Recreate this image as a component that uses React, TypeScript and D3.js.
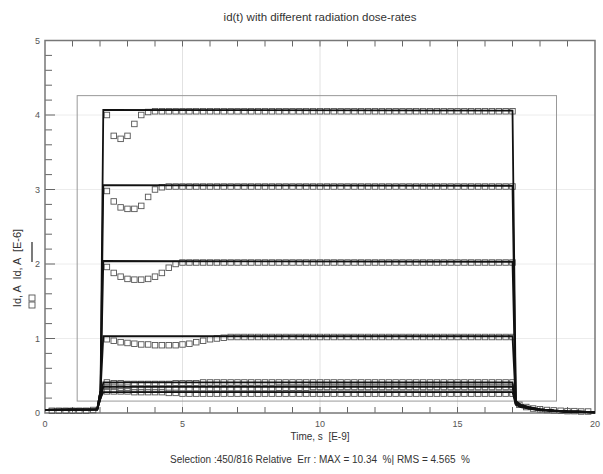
import { useEffect, useRef } from 'react'
import * as d3 from 'd3'

const W = 603, H = 474
const PX0 = 45, PX1 = 595, PY0 = 413, PY1 = 40.5

// measured sample times (ns)
const measT = [
  2.25, 2.5, 2.75, 3, 3.25, 3.5, 3.75, 4, 4.25, 4.5, 4.75, 5, 5.25, 5.5, 5.75,
  6, 6.25, 6.5, 6.75, 7, 7.25, 7.5, 7.75, 8, 8.25, 8.5, 8.75, 9, 9.25, 9.5, 9.75,
  10, 10.25, 10.5, 10.75, 11, 11.25, 11.5, 11.75, 12, 12.25, 12.5, 12.75, 13,
  13.25, 13.5, 13.75, 14, 14.25, 14.5, 14.75, 15, 15.25, 15.5, 15.75, 16, 16.25,
  16.5, 16.75, 17,
]

// measured Id (E-6 A), one array per dose-rate
const meas4 = [
  4.0, 3.72, 3.68, 3.72, 3.88, 4.0, 4.04, 4.05, 4.05, 4.05, 4.05, 4.05, 4.05, 4.05, 4.05,
  4.05, 4.05, 4.05, 4.05, 4.05, 4.05, 4.05, 4.05, 4.05, 4.05, 4.05, 4.05, 4.05, 4.05, 4.05,
  4.05, 4.05, 4.05, 4.05, 4.05, 4.05, 4.05, 4.05, 4.05, 4.05, 4.05, 4.05, 4.05, 4.05, 4.05,
  4.05, 4.05, 4.05, 4.05, 4.05, 4.05, 4.05, 4.05, 4.05, 4.05, 4.05, 4.05, 4.05, 4.05, 4.05,
]
const meas3 = [
  2.98, 2.84, 2.76, 2.74, 2.74, 2.78, 2.9, 3.0, 3.03, 3.04, 3.04, 3.04, 3.04, 3.04, 3.04,
  3.04, 3.04, 3.04, 3.04, 3.04, 3.04, 3.04, 3.04, 3.04, 3.04, 3.04, 3.04, 3.04, 3.04, 3.04,
  3.04, 3.04, 3.04, 3.04, 3.04, 3.04, 3.04, 3.04, 3.04, 3.04, 3.04, 3.04, 3.04, 3.04, 3.04,
  3.04, 3.04, 3.04, 3.04, 3.04, 3.04, 3.04, 3.04, 3.04, 3.04, 3.04, 3.04, 3.04, 3.04, 3.04,
]
const meas2 = [
  1.96, 1.88, 1.83, 1.8, 1.79, 1.79, 1.8, 1.83, 1.88, 1.95, 2.0, 2.02, 2.02, 2.02, 2.02,
  2.02, 2.02, 2.02, 2.02, 2.02, 2.02, 2.02, 2.02, 2.02, 2.02, 2.02, 2.02, 2.02, 2.02, 2.02,
  2.02, 2.02, 2.02, 2.02, 2.02, 2.02, 2.02, 2.02, 2.02, 2.02, 2.02, 2.02, 2.02, 2.02, 2.02,
  2.02, 2.02, 2.02, 2.02, 2.02, 2.02, 2.02, 2.02, 2.02, 2.02, 2.02, 2.02, 2.02, 2.02, 2.02,
]
const meas1 = [
  0.99, 0.97, 0.95, 0.94, 0.93, 0.92, 0.92, 0.91, 0.91, 0.91, 0.91, 0.92, 0.93, 0.95, 0.97,
  0.99, 1.0, 1.01, 1.02, 1.02, 1.02, 1.02, 1.02, 1.02, 1.02, 1.02, 1.02, 1.02, 1.02, 1.02,
  1.02, 1.02, 1.02, 1.02, 1.02, 1.02, 1.02, 1.02, 1.02, 1.02, 1.02, 1.02, 1.02, 1.02, 1.02,
  1.02, 1.02, 1.02, 1.02, 1.02, 1.02, 1.02, 1.02, 1.02, 1.02, 1.02, 1.02, 1.02, 1.02, 1.02,
]
const measA = [
  0.41, 0.40, 0.40, 0.39, 0.39, 0.39, 0.39, 0.39, 0.39, 0.39, 0.40, 0.40, 0.40, 0.40, 0.41,
  0.41, 0.41, 0.41, 0.41, 0.41, 0.41, 0.41, 0.41, 0.41, 0.41, 0.41, 0.41, 0.41, 0.41, 0.41,
  0.41, 0.41, 0.41, 0.41, 0.41, 0.41, 0.41, 0.41, 0.41, 0.41, 0.41, 0.41, 0.41, 0.41, 0.41,
  0.41, 0.41, 0.41, 0.41, 0.41, 0.41, 0.41, 0.41, 0.41, 0.41, 0.41, 0.41, 0.41, 0.41, 0.41,
]
const measB = [
  0.35, 0.35, 0.34, 0.34, 0.33, 0.33, 0.33, 0.33, 0.33, 0.33, 0.33, 0.33, 0.33, 0.33, 0.33,
  0.33, 0.33, 0.33, 0.33, 0.33, 0.33, 0.33, 0.33, 0.33, 0.33, 0.34, 0.34, 0.34, 0.34, 0.34,
  0.35, 0.35, 0.35, 0.35, 0.35, 0.35, 0.35, 0.35, 0.35, 0.35, 0.35, 0.35, 0.35, 0.35, 0.35,
  0.35, 0.35, 0.35, 0.35, 0.35, 0.35, 0.35, 0.35, 0.35, 0.35, 0.35, 0.35, 0.35, 0.35, 0.35,
]
const measC = [
  0.29, 0.29, 0.29, 0.29, 0.28, 0.28, 0.28, 0.28, 0.28, 0.27, 0.27, 0.26, 0.26, 0.26, 0.26,
  0.26, 0.26, 0.26, 0.26, 0.26, 0.26, 0.26, 0.26, 0.26, 0.26, 0.26, 0.26, 0.26, 0.26, 0.26,
  0.26, 0.26, 0.26, 0.26, 0.26, 0.26, 0.26, 0.26, 0.26, 0.26, 0.26, 0.26, 0.26, 0.26, 0.26,
  0.26, 0.26, 0.26, 0.26, 0.26, 0.26, 0.26, 0.26, 0.26, 0.26, 0.26, 0.26, 0.26, 0.26, 0.26,
]
const measSeries = [meas4, meas3, meas2, meas1, measA, measB, measC]

// off-state measured points (before pulse and tail after)
const offT = [0.25, 0.5, 0.75, 1.0, 1.25, 1.5, 1.75, 17.25, 17.5, 17.75, 18, 18.25, 18.5, 18.75, 19, 19.25, 19.5, 19.75]
const offV = [0.03, 0.03, 0.03, 0.03, 0.03, 0.03, 0.04, 0.11, 0.08, 0.06, 0.05, 0.04, 0.035, 0.03, 0.025, 0.025, 0.02, 0.02]

// simulated Id (E-6 A)
const simT = [0, 1.9, 2.02, 2.12, 17.0, 17.12, 17.3, 17.6, 18, 18.5, 19, 20]
const sim4 = [0.04, 0.05, 0.3, 4.07, 4.06, 0.16, 0.11, 0.08, 0.05, 0.03, 0.02, 0.01]
const sim3 = [0.04, 0.05, 0.3, 3.06, 3.05, 0.15, 0.11, 0.08, 0.05, 0.03, 0.02, 0.01]
const sim2 = [0.04, 0.05, 0.3, 2.04, 2.03, 0.14, 0.1, 0.07, 0.05, 0.03, 0.02, 0.01]
const sim1 = [0.04, 0.05, 0.3, 1.03, 1.03, 0.13, 0.1, 0.07, 0.05, 0.03, 0.02, 0.01]
const simA = [0.04, 0.05, 0.2, 0.41, 0.41, 0.12, 0.09, 0.07, 0.04, 0.03, 0.02, 0.01]
const simB = [0.04, 0.05, 0.2, 0.35, 0.35, 0.12, 0.09, 0.06, 0.04, 0.03, 0.02, 0.01]
const simC = [0.04, 0.05, 0.2, 0.28, 0.28, 0.11, 0.08, 0.06, 0.04, 0.03, 0.02, 0.01]
const simSeries = [sim4, sim3, sim2, sim1, simA, simB, simC]

// selection rectangle
const selX = [1.17, 18.6]
const selY = [0.16, 4.26]

const xMajor = [0, 5, 10, 15, 20]
const yMajor = [0, 1, 2, 3, 4, 5]

const FONT = 'Liberation Sans, Arial, sans-serif'

export default function App() {
  const ref = useRef<SVGSVGElement>(null)

  useEffect(() => {
    const svg = d3.select(ref.current!)
    svg.selectAll('*').remove()

    const x = d3.scaleLinear().domain([0, 20]).range([PX0, PX1])
    const y = d3.scaleLinear().domain([0, 5]).range([PY0, PY1])

    svg.append('rect').attr('width', W).attr('height', H).attr('fill', '#fff')

    // gridlines
    xMajor.slice(1, -1).forEach(v => {
      svg.append('line').attr('x1', x(v)).attr('x2', x(v)).attr('y1', PY0).attr('y2', PY1)
        .attr('stroke', '#e2e2e2').attr('stroke-width', 1)
    })
    yMajor.slice(1, -1).forEach(v => {
      svg.append('line').attr('x1', PX0).attr('x2', PX1).attr('y1', y(v)).attr('y2', y(v))
        .attr('stroke', '#ececec').attr('stroke-width', 1)
    })

    // inward ticks
    const xMinor = d3.range(1, 20)
    const yMinor = d3.range(0.2, 5, 0.2)
    const tk = svg.append('g').attr('stroke', '#666').attr('stroke-width', 1)
    xMinor.forEach(v => {
      tk.append('line').attr('x1', x(v)).attr('x2', x(v)).attr('y1', PY1).attr('y2', PY1 + 6)
      tk.append('line').attr('x1', x(v)).attr('x2', x(v)).attr('y1', PY0).attr('y2', PY0 - 6)
    })
    yMinor.forEach(v => {
      tk.append('line').attr('x1', PX0).attr('x2', PX0 + (Math.abs(v - Math.round(v)) < 0.01 ? 10 : 7))
        .attr('y1', y(v)).attr('y2', y(v))
    })

    // frame
    svg.append('rect').attr('x', PX0).attr('y', PY1).attr('width', PX1 - PX0).attr('height', PY0 - PY1)
      .attr('fill', 'none').attr('stroke', '#777').attr('stroke-width', 1.5)

    // selection rectangle
    svg.append('rect').attr('x', x(selX[0])).attr('y', y(selY[1]))
      .attr('width', x(selX[1]) - x(selX[0])).attr('height', y(selY[0]) - y(selY[1]))
      .attr('fill', 'none').attr('stroke', '#999').attr('stroke-width', 1)

    // tick labels
    const lab = svg.append('g').attr('font-family', FONT).attr('font-size', 9).attr('fill', '#555')
    xMajor.forEach(v => {
      lab.append('text').attr('x', x(v)).attr('y', PY0 + 14).attr('text-anchor', 'middle').text(v)
    })
    yMajor.forEach(v => {
      lab.append('text').attr('x', PX0 - 5).attr('y', y(v) + 3).attr('text-anchor', 'end').text(v)
    })

    // measured squares
    const sq = svg.append('g').attr('fill', 'none').attr('stroke', '#555').attr('stroke-width', 0.9)
    const S = 5.5
    measSeries.forEach(vals => {
      vals.forEach((v, i) => {
        sq.append('rect').attr('x', x(measT[i]) - S / 2).attr('y', y(v) - S / 2)
          .attr('width', S).attr('height', S)
      })
    })
    offV.forEach((v, i) => {
      sq.append('rect').attr('x', x(offT[i]) - S / 2).attr('y', y(v) - S / 2)
        .attr('width', S).attr('height', S)
    })

    // simulated lines
    const line = d3.line<number>().x((_, i) => x(simT[i])).y(v => y(v))
    simSeries.forEach(vals => {
      svg.append('path').datum(vals).attr('fill', 'none').attr('stroke', '#111')
        .attr('stroke-width', 1.8).attr('d', line)
    })

    const txt = (sx: number, sy: number, size: number, s: string) =>
      svg.append('text').attr('x', sx).attr('y', sy).attr('text-anchor', 'middle')
        .attr('font-family', FONT).attr('font-size', size).attr('fill', '#333')
        .style('white-space', 'pre').text(s)

    txt(320, 21, 11.5, 'id(t) with different radiation dose-rates')
    txt(320, 440, 10, 'Time, s  [E-9]')
    txt(320, 463, 10, 'Selection :450/816 Relative  Err : MAX = 10.34  %| RMS = 4.565  %')

    // y label with legend samples
    const yl = svg.append('g').attr('transform', 'translate(21,268) rotate(-90)')
    yl.append('text').attr('x', 0).attr('y', 0).attr('text-anchor', 'middle')
      .attr('font-family', FONT).attr('font-size', 11).attr('fill', '#333')
      .style('white-space', 'pre')
      .text('Id, A  Id, A  [E-6]')
    // line sample next to second "Id, A"
    yl.append('line').attr('x1', 6).attr('x2', 26).attr('y1', 11).attr('y2', 11)
      .attr('stroke', '#222').attr('stroke-width', 1.2)
    // square samples next to first "Id, A"
    ;[-37, -30].forEach(dx => {
      yl.append('rect').attr('x', dx - 3).attr('y', 8).attr('width', 6).attr('height', 6)
        .attr('fill', 'none').attr('stroke', '#555').attr('stroke-width', 0.9)
    })
  }, [])

  return (
    <svg ref={ref} width={W} height={H} viewBox={`0 0 ${W} ${H}`}
      style={{ position: 'absolute', left: 0, top: 0 }} />
  )
}
